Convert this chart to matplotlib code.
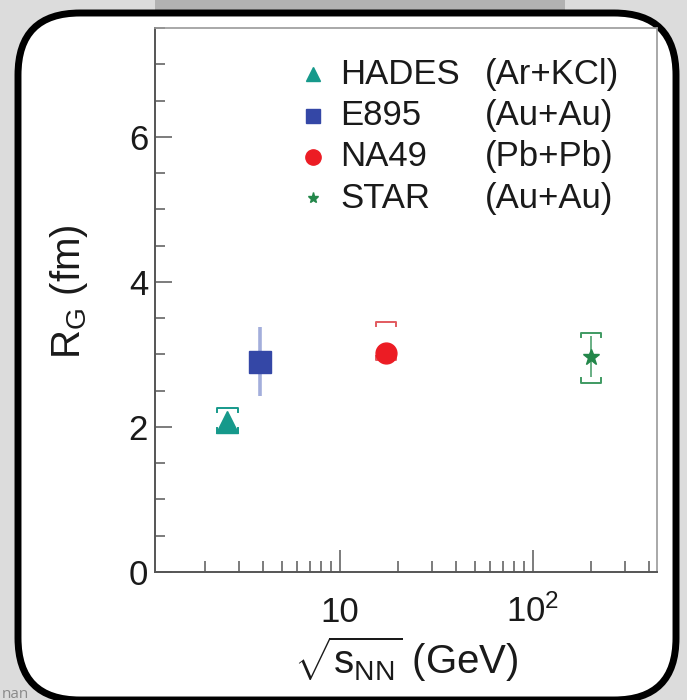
import matplotlib
matplotlib.use('Agg')
import matplotlib.pyplot as plt
from matplotlib.patches import FancyBboxPatch, Rectangle
from matplotlib.ticker import FixedLocator, LogLocator, MultipleLocator, NullFormatter
import numpy as np

plt.rcParams['font.family'] = ['Liberation Sans', 'DejaVu Sans']
plt.rcParams['mathtext.fontset'] = 'custom'
plt.rcParams['mathtext.rm'] = 'Liberation Sans'
plt.rcParams['mathtext.it'] = 'Liberation Sans'
plt.rcParams['mathtext.bf'] = 'Liberation Sans:bold'

# Gaussian source radius R_G vs collision energy
names = ['HADES', 'E895', 'NA49', 'STAR']
systems = ['(Ar+KCl)', '(Au+Au)', '(Pb+Pb)', '(Au+Au)']
sqrt_s = [2.61, 3.84, 17.3, 200.0]
r_g = [2.07, 2.90, 3.02, 2.97]
stat_err = [0.0, 0.48, 0.0, 0.28]
sys_lo = [0.15, 0.0, 0.10, 0.36]
sys_hi = [0.19, 0.0, 0.43, 0.33]

colors = ['#16998b', '#3447a6', '#ec1c24', '#23874a']
stat_colors = ['#16998b', '#a3aedb', '#ec1c24', '#4fa26f']
sys_colors = ['#16998b', '#3447a6', '#e25a5f', '#3f9a62']
markers = ['^', 's', 'o', '*']
msizes = [16, 16, 15, 12]
leg_sizes = [10, 10, 11, 8]

W, H = 6.87, 7.0
fig = plt.figure(figsize=(W, H), dpi=100, facecolor='#dcdcdc')

# page background bits and the rounded black frame
fig.add_artist(Rectangle((1.55, 6.88), 4.1, 0.2, transform=fig.dpi_scale_trans,
                         facecolor='#b2b2b2', edgecolor='none', zorder=-3))
frame = FancyBboxPatch((0.18, 0.0), 6.58, 6.87,
                       boxstyle='round,pad=0,rounding_size=0.62',
                       transform=fig.dpi_scale_trans, facecolor='white',
                       edgecolor='black', linewidth=5.0, zorder=-2)
fig.add_artist(frame)
fig.text(0.002, 0.003, 'nan', fontsize=11, color='#8a8a8a', family='Open Sans')

ax = fig.add_axes([155 / 687, 1 - 572 / 700, 502 / 687, 544 / 700])
ax.set_xscale('log')
ax.set_xlim(1.1, 440)
ax.set_ylim(0, 7.5)

dx = 1.13   # half width of the systematic brackets (multiplicative in x)
dh = 0.06
for i in range(len(names)):
    x, y, c = sqrt_s[i], r_g[i], colors[i]
    if stat_err[i] > 0:
        ax.plot([x, x], [y - stat_err[i], y + stat_err[i]], color=stat_colors[i],
                lw=2.6 if i == 1 else 1.2, zorder=2, solid_capstyle='butt')
    if sys_hi[i] > 0:
        yt = y + sys_hi[i]
        ax.plot([x / dx, x / dx, x * dx, x * dx], [yt - dh, yt, yt, yt - dh],
                color=sys_colors[i], lw=1.4, zorder=2)
    if sys_lo[i] > 0:
        yb = y - sys_lo[i]
        ax.plot([x / dx, x / dx, x * dx, x * dx], [yb + dh, yb, yb, yb + dh],
                color=sys_colors[i], lw=1.4, zorder=2)
    ax.plot(x, y, marker=markers[i], ms=msizes[i], color=c, mec=c, ls='none', zorder=3)

# legend, two text columns
for i in range(len(names)):
    yl = 0.915 - i * 0.076
    ax.plot(0.315, yl, marker=markers[i], ms=leg_sizes[i], color=colors[i],
            mec=colors[i], ls='none', transform=ax.transAxes, clip_on=False)
    ax.text(0.369, yl, names[i], transform=ax.transAxes, fontsize=25,
            va='center', ha='left', color='#1a1a1a')
    ax.text(0.657, yl, systems[i], transform=ax.transAxes, fontsize=25,
            va='center', ha='left', color='#1a1a1a')

# axes look
for side in ['left', 'bottom']:
    ax.spines[side].set_color('#555555')
    ax.spines[side].set_linewidth(1.4)
for side in ['top', 'right']:
    ax.spines[side].set_color('#9a9a9a')
    ax.spines[side].set_linewidth(1.2)

ax.xaxis.set_major_locator(FixedLocator([10, 100]))
ax.xaxis.set_minor_locator(LogLocator(base=10, subs=np.arange(2, 10)))
ax.xaxis.set_minor_formatter(NullFormatter())
ax.set_xticklabels(['10', r'$10^{2}$'])
ax.yaxis.set_major_locator(MultipleLocator(2))
ax.yaxis.set_minor_locator(MultipleLocator(0.5))

ax.tick_params(which='both', direction='in', top=False, right=False,
               color='#666666', width=1.2, labelcolor='#1a1a1a', labelsize=25)
ax.tick_params(axis='y', which='major', length=12, pad=5)
ax.tick_params(axis='y', which='minor', length=7)
ax.tick_params(axis='x', which='major', length=16, pad=36)
ax.tick_params(axis='x', which='minor', length=8)
plt.setp(ax.get_xticklabels(), va='baseline')

ax.set_xlabel(r'$\sqrt{s_{\rm NN}}$ (GeV)', fontsize=29, color='#1a1a1a')
ax.set_ylabel(r'R$_{\rm G}$ (fm)', fontsize=29, color='#1a1a1a')
ax.xaxis.set_label_coords(0.5, -0.115)
ax.yaxis.set_label_coords(-0.13, 0.515)

fig.savefig('out.png', dpi=100)
